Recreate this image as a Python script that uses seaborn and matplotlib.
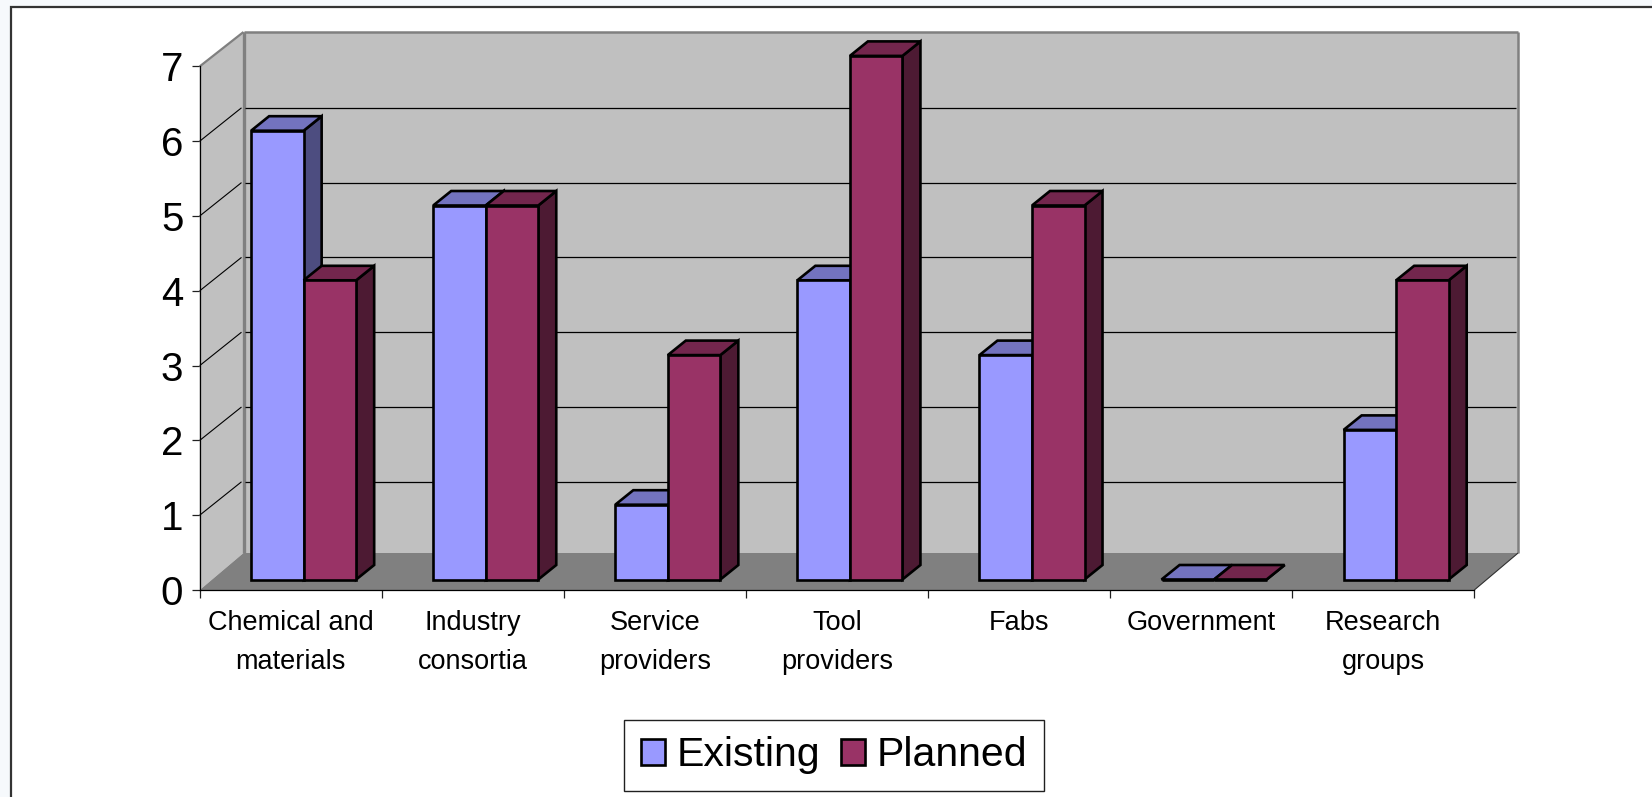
import numpy as np
import pandas as pd
import matplotlib
matplotlib.use("Agg")
import matplotlib.pyplot as plt
from matplotlib.lines import Line2D
from matplotlib.patches import Polygon, Rectangle, Patch
from matplotlib.transforms import Affine2D
import seaborn as sns

categories = ["Chemical and\nmaterials", "Industry\nconsortia", "Service\nproviders",
              "Tool\nproviders", "Fabs", "Government", "Research\ngroups"]
existing = [6, 5, 1, 4, 3, 0, 2]
planned = [4, 5, 3, 7, 5, 0, 4]
series_names = ["Existing", "Planned"]
y_ticks = [0, 1, 2, 3, 4, 5, 6, 7]

front_colors = ["#9999FF", "#993366"]
top_colors = ["#7373BF", "#73264D"]
side_colors = ["#4D4D80", "#4D1A33"]

W, H = 1652, 797
sns.set_theme(style="white")
plt.rcParams["font.family"] = ["Liberation Sans", "DejaVu Sans"]

fig = plt.figure(figsize=(W / 100, H / 100), dpi=100, facecolor="#F6F9FC")
fig.add_artist(Rectangle((11 / W, -0.05), 1.1, 1.05 - 6.5 / H, transform=fig.transFigure,
                         facecolor="white", edgecolor="#333333", lw=1.6, zorder=-5))

L, R, T, B = 199.7, 1474.3, 66.4, 590.0
ax = fig.add_axes([L / W, 1 - B / H, (R - L) / W, (B - T) / H])
ax.patch.set_alpha(0)

df = pd.DataFrame({
    "category": categories * 2,
    "value": existing + planned,
    "series": [series_names[0]] * len(categories) + [series_names[1]] * len(categories),
})
sns.barplot(data=df, x="category", y="value", hue="series", hue_order=series_names,
            palette=front_colors, saturation=1, width=0.577, gap=0, dodge=True, ax=ax,
            edgecolor="black", linewidth=2.0, legend=False)
ax.set_xlim(-0.5, len(categories) - 0.5)
ax.set_ylim(0, 7)
ax.set_xlabel("")
ax.set_ylabel("")

# pixel offsets of the pseudo-3D construction (display units, y up)
BAR_FRONT = (12.9, 10.5)
BAR_DEPTH = (18.0, 14.5)
WALL = (43.8, 37.0)
WALL_TOP = (43.8, 34.4)
GRID = (43.8, 33.4)


def disp(x, y, dx=0.0, dy=0.0):
    p = ax.transData.transform((x, y))
    return (p[0] + dx, p[1] + dy)


def poly(pts, fc, ec="none", lw=0, z=1):
    ax.add_patch(Polygon(pts, closed=True, facecolor=fc, edgecolor=ec, lw=lw, zorder=z,
                         transform=Affine2D(), clip_on=False, joinstyle="miter"))


def line(a, b, color="black", lw=0.9, z=2):
    ax.add_line(Line2D([a[0], b[0]], [a[1], b[1]], color=color, lw=lw, zorder=z,
                       transform=Affine2D(), clip_on=False, solid_capstyle="butt"))


x0, x1 = -0.5, len(categories) - 0.5
ymax = y_ticks[-1]
wall_gray = "#C0C0C0"
edge_gray = "#808080"
# back wall, side wall, floor
poly([disp(x0, 0, *WALL), disp(x1, 0, *WALL), disp(x1, ymax, *WALL_TOP), disp(x0, ymax, *WALL_TOP)], wall_gray, z=0.5)
poly([disp(x0, 0), disp(x0, 0, *WALL), disp(x0, ymax, *WALL_TOP), disp(x0, ymax)], wall_gray, z=0.6)
poly([disp(x0, 0), disp(x1, 0), disp(x1, 0, *WALL), disp(x0, 0, *WALL)], edge_gray, z=0.8)
# wall edges
line(disp(x0, ymax), disp(x0, ymax, *WALL_TOP), edge_gray, 1.6, 1.0)
line(disp(x0, ymax, *WALL_TOP), disp(x1, ymax, *WALL_TOP), edge_gray, 1.8, 1.0)
line(disp(x1, ymax, *WALL_TOP), disp(x1, 0, *WALL), edge_gray, 1.8, 1.0)
line(disp(x0, ymax, *WALL_TOP), disp(x0, 0, *WALL), edge_gray, 2.4, 0.7)
line(disp(x1, 0), disp(x1, 0, *WALL), "#303030", 0.8, 1.0)
# gridlines
for v in y_ticks[1:-1]:
    a = disp(x0, v, *GRID)
    line(disp(x0, v), (a[0] - 2, a[1]), "black", 0.8, 0.9)
    b = disp(x1, v, *GRID)
    line((a[0] + 1, a[1]), (b[0] - 2, b[1]), "black", 0.9, 0.9)

# bars: shift the front faces into the depth and add tops and sides
shift = Affine2D().translate(*BAR_FRONT)
for s, container in enumerate(ax.containers):
    for i, bar in enumerate(container):
        z = 3 + i + s * 0.5
        bx, bw, bh = bar.get_x(), bar.get_width(), bar.get_height()
        fr = disp(bx + bw, 0, *BAR_FRONT)
        tl = disp(bx, bh, *BAR_FRONT)
        tr = disp(bx + bw, bh, *BAR_FRONT)
        d = BAR_DEPTH
        poly([fr, (fr[0] + d[0], fr[1] + d[1]), (tr[0] + d[0], tr[1] + d[1]), tr],
             side_colors[s], "black", 1.9, z)
        poly([tl, tr, (tr[0] + d[0], tr[1] + d[1]), (tl[0] + d[0], tl[1] + d[1])],
             top_colors[s], "black", 1.9, z + 0.1)
        bar.set_transform(ax.transData + shift)
        bar.set_clip_on(False)
        bar.set_joinstyle("miter")
        bar.set_linewidth(1.9)
        bar.set_zorder(z + 0.2)

# axes
for side in ("top", "right"):
    ax.spines[side].set_visible(False)
for side in ("left", "bottom"):
    ax.spines[side].set_visible(True)
    ax.spines[side].set_color("black")
    ax.spines[side].set_linewidth(0.9)
    ax.spines[side].set_zorder(2.5)

ax.set_yticks(y_ticks)
ax.set_xticks(range(len(categories)), categories)
ax.set_xticks(np.arange(len(categories) + 1) - 0.5, minor=True)
ax.tick_params(axis="x", which="major", length=0, pad=14.5, labelsize=19.5, labelcolor="black")
ax.tick_params(axis="x", which="minor", bottom=True, length=5.8, width=0.9, color="#202020")
ax.tick_params(axis="y", which="major", left=True, length=5.8, width=0.9, pad=6, labelsize=29,
               color="#202020", labelcolor="black")
for lab in ax.get_xticklabels():
    lab.set_linespacing(1.62)

# legend
handles = [Patch(facecolor=c, edgecolor="black", lw=1.9, label=n) for c, n in zip(front_colors, series_names)]
leg = fig.legend(handles=handles, loc="center", bbox_to_anchor=(834 / W, 1 - 755.5 / H), ncol=2,
                 fontsize=29.5, frameon=True, fancybox=False, edgecolor="#202020", framealpha=1,
                 handlelength=0.6, handleheight=0.6, handletextpad=0.28, columnspacing=0.5,
                 borderpad=0.4, borderaxespad=0, labelcolor="black")
leg.get_frame().set_linewidth(1.0)

fig.savefig("out.png", dpi=100, facecolor=fig.get_facecolor())
